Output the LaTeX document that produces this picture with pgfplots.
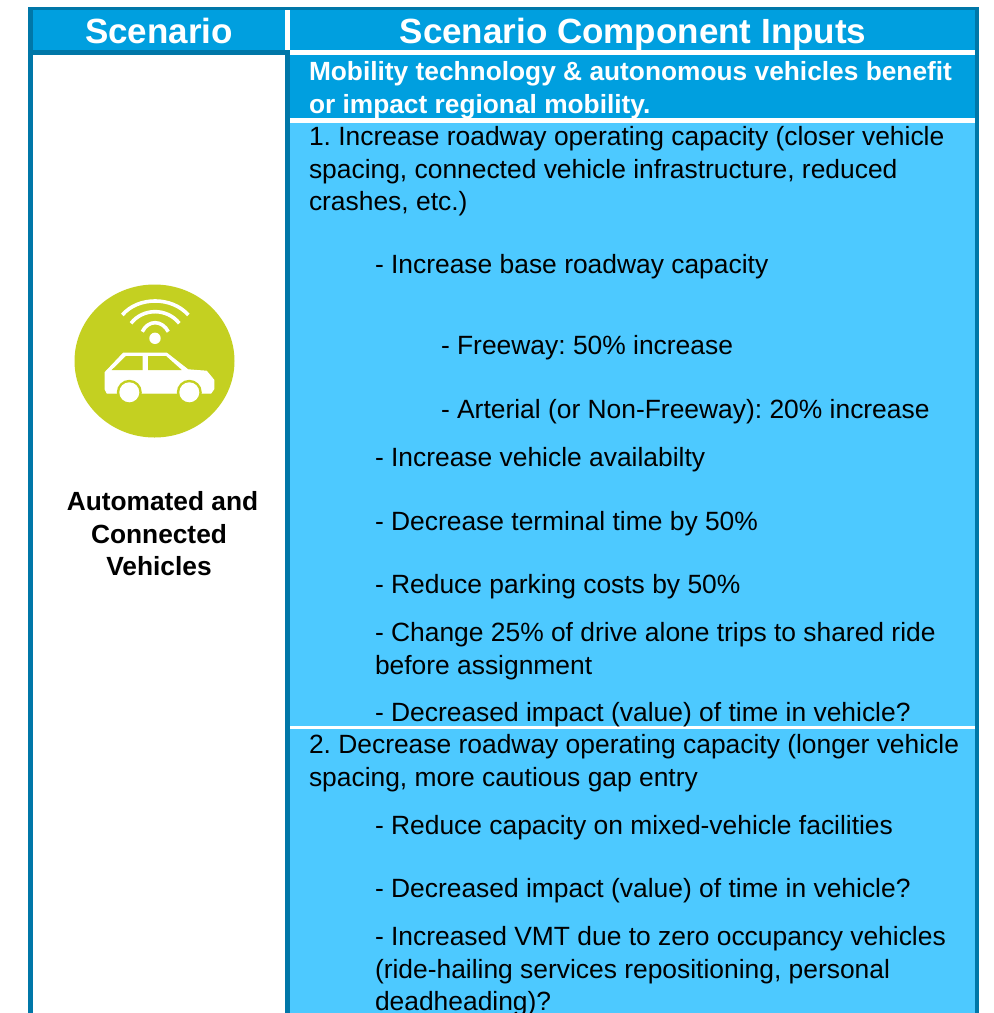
\documentclass[border=0pt]{standalone}
\usepackage{pgfplots}
\pgfplotsset{compat=1.18}
\usepackage{fontspec}
\setmainfont{Liberation Sans}
\frenchspacing
\definecolor{frame}{HTML}{0077A8}
\definecolor{mid}{HTML}{009FDF}
\definecolor{light}{HTML}{4DC9FF}
\definecolor{lime}{HTML}{C4D021}
\newcommand{\rect}[5]{\addplot[fill=#5,draw=none,forget plot] coordinates {(#1,#2) (#3,#2) (#3,#4) (#1,#4)} -- cycle;}
\newcommand{\bodyline}[3]{\node[anchor=base west,inner sep=0pt,outer sep=0pt,text=black] at (axis cs:#1,#2) {\fontsize{26.4}{30}\selectfont #3};}
\newcommand{\boldline}[3]{\node[anchor=base west,inner sep=0pt,outer sep=0pt,text=white] at (axis cs:#1,#2) {\fontsize{26.3}{30}\selectfont\bfseries #3};}
\newcommand{\headline}[3]{\node[anchor=base,inner sep=0pt,outer sep=0pt,text=white] at (axis cs:#1,#2) {\fontsize{35}{40}\selectfont\bfseries #3};}
\newcommand{\sideline}[3]{\node[anchor=base,inner sep=0pt,outer sep=0pt,text=black] at (axis cs:#1,#2) {\fontsize{26.3}{30}\selectfont\bfseries #3};}
\begin{document}
\begin{tikzpicture}
\begin{axis}[
  scale only axis, width=994pt, height=1013pt,
  xmin=0, xmax=994, ymin=0, ymax=1013, y dir=reverse,
  axis lines=none, ticks=none,
]
% frame and panels
\rect{28}{7}{979}{1013}{frame}
\rect{33}{10}{975}{1013}{white}
\rect{33}{10}{285}{50}{mid}
\rect{33}{50}{290}{55}{frame}
\rect{285}{55}{290}{1013}{frame}
\rect{290}{10}{975}{50}{mid}
\rect{290}{55}{975}{118}{mid}
\rect{290}{123}{975}{726}{light}
\rect{290}{729}{975}{1013}{light}
\rect{285}{10}{290}{50}{white}
% header text
\headline{159}{43}{Scenario}
\headline{633}{43}{Scenario Component Inputs}
\boldline{309}{80}{Mobility technology \& autonomous vehicles benefit}
\boldline{309}{113}{or impact regional mobility.}
% body text
\bodyline{309}{145}{1. Increase roadway operating capacity (closer vehicle}
\bodyline{309}{178}{spacing, connected vehicle infrastructure, reduced}
\bodyline{309}{210}{crashes, etc.)}
\bodyline{375}{273}{- Increase base roadway capacity}
\bodyline{441}{354}{- Freeway: 50\% increase}
\bodyline{441}{418}{- Arterial (or Non-Freeway): 20\% increase}
\bodyline{375}{466}{- Increase vehicle availabilty}
\bodyline{375}{530}{- Decrease terminal time by 50\%}
\bodyline{375}{593}{- Reduce parking costs by 50\%}
\bodyline{375}{641}{- Change 25\% of drive alone trips to shared ride}
\bodyline{375}{674}{before assignment}
\bodyline{375}{721}{- Decreased impact (value) of time in vehicle?}
\bodyline{309}{753}{2. Decrease roadway operating capacity (longer vehicle}
\bodyline{309}{786}{spacing, more cautious gap entry}
\bodyline{375}{834}{- Reduce capacity on mixed-vehicle facilities}
\bodyline{375}{897}{- Decreased impact (value) of time in vehicle?}
\bodyline{375}{945}{- Increased VMT due to zero occupancy vehicles}
\bodyline{375}{978}{(ride-hailing services repositioning, personal}
\bodyline{375}{1010}{deadheading)?}
% side label
\sideline{162.5}{510}{Automated and}
\sideline{159}{543}{Connected}
\sideline{159}{575}{Vehicles}
% icon
\fill[lime] (axis cs:154.5,361) ellipse [x radius=80pt, y radius=76.5pt];
\addplot[fill=white,draw=white,line width=1pt,line join=round,forget plot] coordinates {(105,389) (105,372.5) (123.5,353) (166.5,353) (188,369.8) (206.5,371.2) (213.8,380) (213.8,389) (211,393) (107,393)} -- cycle;
\addplot[fill=lime,draw=none,forget plot] coordinates {(111.7,370) (126,356) (142.7,356) (142.7,370)} -- cycle;
\addplot[fill=lime,draw=none,forget plot] coordinates {(148,356) (166,356) (181.7,370) (148,370)} -- cycle;
\fill[lime] (axis cs:129.3,392.3) circle [radius=12.5pt];
\fill[lime] (axis cs:189.3,392.3) circle [radius=12.5pt];
\fill[white] (axis cs:129.3,392.3) circle [radius=10pt];
\fill[white] (axis cs:189.3,392.3) circle [radius=10pt];
\fill[white] (axis cs:155,338.3) circle [radius=5.7pt];
\draw[white,line width=3.6pt] (axis cs:142.3,331.7) .. controls (axis cs:148,319.7) and (axis cs:162,319.7) .. (axis cs:168.3,331.7);
\draw[white,line width=3.6pt] (axis cs:131,323.3) .. controls (axis cs:143,307.8) and (axis cs:167,307.8) .. (axis cs:179.3,323.3);
\draw[white,line width=3.6pt] (axis cs:122.3,315) .. controls (axis cs:138,296.3) and (axis cs:172,296.3) .. (axis cs:188.3,315);
\end{axis}
\pgfresetboundingbox
\path[use as bounding box] (0,0) rectangle (994pt,1013pt);
\end{tikzpicture}
\end{document}
